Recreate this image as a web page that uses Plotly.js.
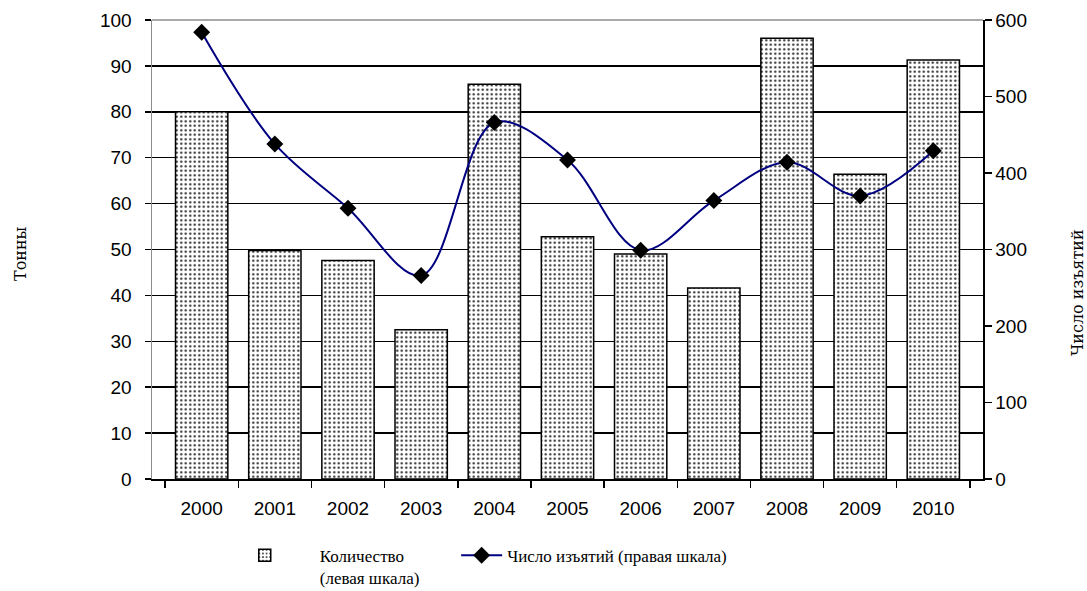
<!DOCTYPE html>
<html>
<head>
<meta charset="utf-8">
<script src="https://cdn.plot.ly/plotly-3.0.1.min.js"></script>
<style>html,body{margin:0;padding:0;background:#fff;}#chart{width:1087px;height:591px;}</style>
</head>
<body>
<div id="chart"></div>
<script>
const years = ['2000','2001','2002','2003','2004','2005','2006','2007','2008','2009','2010'];
const tonnes = [80, 49.8, 47.6, 32.5, 86, 52.8, 49, 41.6, 96, 66.4, 91.3];
const seizures = [584, 438, 354, 266, 466, 417, 299, 364, 414, 370, 429];
const barName = 'Количество<br>(левая шкала)';
const lineName = 'Число изъятий (правая шкала)';
const leftTitle = 'Тонны';
const rightTitle = 'Число изъятий';

const SANS = 'Liberation Sans, Arial, sans-serif';
const SERIF = 'Liberation Serif, Times New Roman, serif';

const traces = [
  {
    type: 'bar', x: years, y: tonnes, name: barName, yaxis: 'y', legend: 'legend',
    marker: {
      color: '#ffffff',
      line: {color: '#000000', width: 1.5},
      pattern: {shape: '.', fgcolor: '#222222', bgcolor: '#ffffff', size: 4.5, solidity: 0.2}
    },
    hoverinfo: 'skip'
  },
  {
    type: 'scatter', mode: 'lines+markers', x: years, y: seizures, name: lineName, yaxis: 'y2', legend: 'legend2',
    line: {color: '#000080', width: 2, shape: 'spline', smoothing: 1},
    marker: {symbol: 'diamond', size: 13, color: '#000000'},
    hoverinfo: 'skip'
  }
];

const layout = {
  width: 1087, height: 591,
  margin: {l: 152, r: 104, t: 20, b: 112, autoexpand: false},
  paper_bgcolor: '#ffffff', plot_bgcolor: '#ffffff',
  showlegend: true,
  bargap: 0.285,
  font: {family: SANS, color: '#000'},
  xaxis: {
    type: 'category', showline: true, linecolor: '#000', linewidth: 1.5,
    ticks: 'outside', tickson: 'boundaries', ticklen: 7, tickwidth: 1.5, tickcolor: '#000',
    ticklabelstandoff: 12,
    tickfont: {size: 19, family: SANS, color: '#000'},
    showgrid: false, zeroline: false, fixedrange: true, automargin: false
  },
  yaxis: {
    range: [0, 100], dtick: 10, showline: true, linecolor: '#8c8c8c', linewidth: 1.5,
    ticks: 'outside', ticklen: 6, tickwidth: 1.5, tickcolor: '#000',
    ticklabelstandoff: 9,
    tickfont: {size: 19, family: SANS, color: '#000'},
    showgrid: true, gridcolor: '#000', gridwidth: 1.5, zeroline: false, fixedrange: true, automargin: false
  },
  yaxis2: {
    overlaying: 'y', side: 'right', range: [0, 600], dtick: 100,
    showline: true, linecolor: '#000', linewidth: 1.5,
    ticks: 'outside', ticklen: 7, tickwidth: 1.5, tickcolor: '#000',
    tickfont: {size: 19, family: SANS, color: '#000'},
    showgrid: false, zeroline: false, fixedrange: true, automargin: false
  },
  shapes: [
    {type: 'line', xref: 'paper', yref: 'paper', x0: 0, x1: 1, y0: 1, y1: 1, line: {color: '#8c8c8c', width: 1.5}}
  ],
  annotations: [
    {text: leftTitle, xref: 'paper', yref: 'paper', x: -0.159, y: 0.492, xanchor: 'center', yanchor: 'middle',
     textangle: -90, showarrow: false, font: {family: 'DejaVu Serif, serif', size: 16, color: '#000'}},
    {text: rightTitle, xref: 'paper', yref: 'paper', x: 1.113, y: 0.407, xanchor: 'center', yanchor: 'middle',
     textangle: -90, showarrow: false, font: {family: 'DejaVu Serif, serif', size: 16, color: '#000'}}
  ],
  legend: {
    orientation: 'v', x: 0.0695, y: -0.128, xanchor: 'left', yanchor: 'top',
    font: {family: SERIF, size: 17, color: '#000'},
    itemwidth: 100, valign: 'top', bgcolor: 'rgba(0,0,0,0)'
  },
  legend2: {
    orientation: 'v', x: 0.366, y: -0.128, xanchor: 'left', yanchor: 'top',
    font: {family: SERIF, size: 17, color: '#000'},
    itemwidth: 41, valign: 'top', bgcolor: 'rgba(0,0,0,0)'
  }
};

Plotly.newPlot('chart', traces, layout, {displayModeBar: false, staticPlot: true});
</script>
</body>
</html>
